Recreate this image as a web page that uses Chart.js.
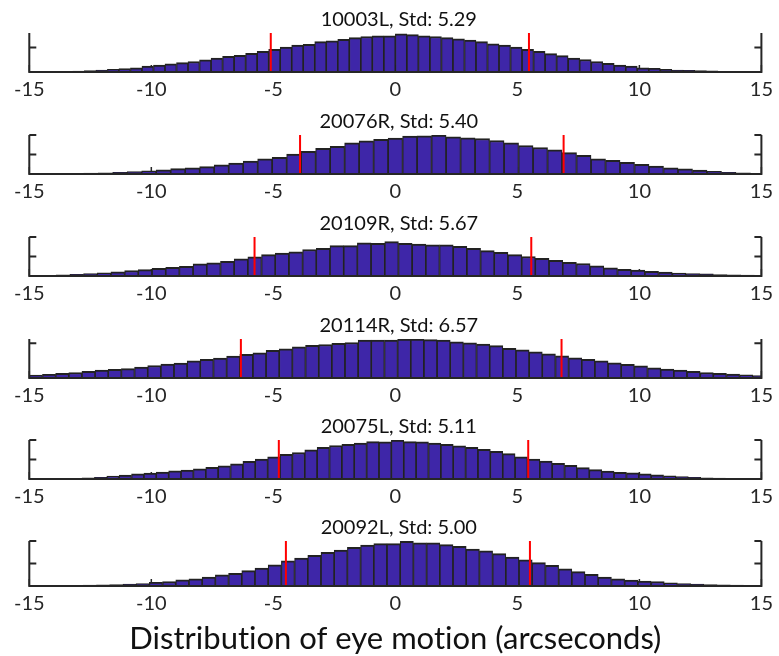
<!DOCTYPE html>
<html>
<head>
<meta charset="utf-8">
<title>Distribution of eye motion</title>
<script src="https://cdn.jsdelivr.net/npm/chart.js@4.4.1/dist/chart.umd.min.js"></script>
<style>
  html, body { margin: 0; padding: 0; background: #fff; }
  #wrap { position: relative; width: 779px; height: 656px; overflow: hidden; }
  #wrap canvas { position: absolute; left: 0; }
</style>
</head>
<body>
<div id="wrap"></div>
<script>
// subjects, one histogram panel each
const subjects = ["10003L", "20076R", "20109R", "20114R", "20075L", "20092L"];
const stds = [5.29, 5.40, 5.67, 6.57, 5.11, 5.00];
const means = [0.185, 1.495, -0.10, 0.24, 0.335, 0.515];

// bin layout per subject (arcseconds)
const binWidths = [0.472, 0.594, 0.561, 0.539, 0.507, 0.541];
const firstCenters = [-14.868, -14.85, -14.74, -14.73, -15.12, -15.22];

// bin heights, normalised to each panel's y-limit
const hist10003L = [0.01, 0.012, 0.015, 0.02, 0.025, 0.035, 0.05, 0.067, 0.09, 0.11,
  0.155, 0.18, 0.21, 0.24, 0.27, 0.31, 0.36, 0.40, 0.43, 0.48,
  0.53, 0.58, 0.64, 0.69, 0.71, 0.78, 0.80, 0.84, 0.88, 0.91,
  0.93, 0.93, 0.98, 0.96, 0.93, 0.91, 0.88, 0.85, 0.82, 0.78,
  0.72, 0.69, 0.64, 0.58, 0.53, 0.47, 0.42, 0.36, 0.32, 0.27,
  0.22, 0.18, 0.15, 0.11, 0.095, 0.066, 0.05, 0.044, 0.036, 0.028,
  0.02, 0.015, 0.01, 0.008];
const hist20076R = [0.008, 0.008, 0.011, 0.015, 0.023, 0.03, 0.045, 0.06, 0.083, 0.105,
  0.136, 0.159, 0.19, 0.235, 0.28, 0.33, 0.386, 0.43, 0.51, 0.58,
  0.66, 0.71, 0.80, 0.85, 0.89, 0.92, 0.97, 0.98, 1.0, 0.95,
  0.93, 0.91, 0.86, 0.80, 0.73, 0.68, 0.62, 0.55, 0.48, 0.39,
  0.35, 0.30, 0.25, 0.205, 0.16, 0.13, 0.10, 0.07, 0.045, 0.03,
  0.02];
const hist20109R = [0.015, 0.015, 0.03, 0.045, 0.06, 0.083, 0.11, 0.14, 0.165, 0.195,
  0.225, 0.25, 0.31, 0.34, 0.375, 0.44, 0.49, 0.55, 0.59, 0.62,
  0.68, 0.71, 0.78, 0.78, 0.85, 0.84, 0.88, 0.84, 0.82, 0.80,
  0.80, 0.76, 0.71, 0.65, 0.61, 0.55, 0.50, 0.45, 0.40, 0.35,
  0.32, 0.26, 0.21, 0.17, 0.15, 0.12, 0.10, 0.075, 0.06, 0.053,
  0.038, 0.03, 0.023, 0.015];
const hist20114R = [0.074, 0.096, 0.12, 0.14, 0.17, 0.20, 0.22, 0.24, 0.28, 0.32,
  0.36, 0.385, 0.44, 0.48, 0.51, 0.56, 0.61, 0.645, 0.71, 0.75,
  0.80, 0.84, 0.86, 0.89, 0.91, 0.97, 0.97, 0.975, 1.0, 0.995,
  0.985, 0.97, 0.93, 0.90, 0.87, 0.83, 0.76, 0.72, 0.67, 0.62,
  0.57, 0.52, 0.48, 0.44, 0.39, 0.35, 0.31, 0.26, 0.23, 0.20,
  0.17, 0.14, 0.12, 0.10, 0.08, 0.065];
const hist20075L = [0.005, 0.008, 0.008, 0.015, 0.02, 0.03, 0.045, 0.075, 0.10, 0.13,
  0.15, 0.18, 0.21, 0.23, 0.26, 0.30, 0.34, 0.39, 0.45, 0.51,
  0.57, 0.63, 0.68, 0.75, 0.81, 0.86, 0.89, 0.92, 0.96, 0.95,
  1.0, 0.96, 0.95, 0.92, 0.89, 0.85, 0.81, 0.76, 0.71, 0.65,
  0.57, 0.51, 0.46, 0.40, 0.35, 0.29, 0.24, 0.20, 0.17, 0.16,
  0.13, 0.105, 0.083, 0.06, 0.045, 0.03, 0.023, 0.015, 0.008];
const hist20092L = [0.005, 0.006, 0.008, 0.01, 0.013, 0.018, 0.024, 0.03, 0.04, 0.056,
  0.08, 0.10, 0.136, 0.16, 0.20, 0.25, 0.28, 0.34, 0.40, 0.47,
  0.56, 0.62, 0.68, 0.75, 0.80, 0.86, 0.91, 0.94, 0.94, 0.99,
  0.96, 0.96, 0.92, 0.88, 0.82, 0.78, 0.72, 0.64, 0.58, 0.52,
  0.46, 0.38, 0.32, 0.26, 0.20, 0.16, 0.13, 0.11, 0.10, 0.07,
  0.056, 0.04, 0.032, 0.024, 0.02, 0.016, 0.015];
const histograms = [hist10003L, hist20076R, hist20109R, hist20114R, hist20075L, hist20092L];

// y tick positions (same normalised units), x tick step
const yTicks = [[0, 0.63], [0, 0.5, 1], [0, 0.5, 1], [0, 0.89], [0, 0.5, 1], [0, 0.5, 1]];
const xTickStep = 5;
const xLabel = "Distribution of eye motion (arcseconds)";

const BAR_FILL = "rgb(62, 38, 168)";
const EDGE = "#222222";
const AXIS = "#262626";
const TICK_LEN = 7;

Chart.defaults.font.family = "Lato, 'Open Sans', sans-serif";

// MATLAB-like axes: inward ticks, left/right/bottom lines, mean ± std markers
const axisFrame = {
  id: "axisFrame",
  beforeDraw(chart) {
    // plain glyphs, no "ti"/"fi" ligatures from Lato
    chart.ctx.textRendering = "optimizeSpeed";
  },
  beforeDatasetsDraw(chart) {
    const { ctx, chartArea: a, scales: { x } } = chart;
    ctx.save();
    ctx.strokeStyle = AXIS;
    ctx.lineWidth = 1.5;
    ctx.beginPath();
    x.ticks.forEach(t => {
      const px = x.getPixelForValue(t.value);
      ctx.moveTo(px, a.bottom);
      ctx.lineTo(px, a.bottom - TICK_LEN);
    });
    ctx.stroke();
    ctx.restore();
  },
  afterDatasetsDraw(chart, args, opts) {
    const { ctx, chartArea: a, scales: { x, y } } = chart;
    ctx.save();
    ctx.strokeStyle = "#ff0000";
    ctx.lineWidth = 2;
    ctx.beginPath();
    opts.markers.forEach(v => {
      const px = x.getPixelForValue(v);
      ctx.moveTo(px, y.getPixelForValue(0));
      ctx.lineTo(px, y.getPixelForValue(y.max));
    });
    ctx.stroke();

    ctx.strokeStyle = AXIS;
    ctx.lineWidth = 2;
    ctx.beginPath();
    ctx.moveTo(a.left, a.top);
    ctx.lineTo(a.left, a.bottom);
    ctx.lineTo(a.right, a.bottom);
    ctx.lineTo(a.right, a.top);
    opts.yTicks.forEach(v => {
      const py = y.getPixelForValue(v);
      ctx.moveTo(a.left, py);
      ctx.lineTo(a.left + TICK_LEN, py);
      ctx.moveTo(a.right, py);
      ctx.lineTo(a.right - TICK_LEN, py);
    });
    ctx.stroke();
    ctx.restore();
  }
};

const wrap = document.getElementById("wrap");
const panelTops = [0, 102, 204, 306, 407, 508];

subjects.forEach((name, i) => {
  const last = i === subjects.length - 1;
  const canvas = document.createElement("canvas");
  canvas.width = 779;
  canvas.height = last ? 148 : 108;
  canvas.style.top = panelTops[i] + "px";
  wrap.appendChild(canvas);

  const points = histograms[i].map((v, k) => ({ x: firstCenters[i] + k * binWidths[i], y: v }));

  new Chart(canvas, {
    type: "bar",
    data: {
      datasets: [{
        data: points,
        backgroundColor: BAR_FILL,
        borderColor: EDGE,
        borderWidth: { top: 2, left: 1.2, right: 1.2, bottom: 0 },
        borderSkipped: false,
        barPercentage: 1,
        categoryPercentage: 1,
        clip: 0
      }]
    },
    options: {
      responsive: false,
      animation: false,
      layout: { padding: { left: 29.3, right: 10.7, top: 8, bottom: 0 } },
      scales: {
        x: {
          type: "linear",
          min: -15,
          max: 15,
          offset: false,
          grid: { display: false, drawTicks: false, offset: false },
          border: { display: false },
          ticks: {
            stepSize: xTickStep,
            color: AXIS,
            font: { size: 20 },
            padding: 6,
            maxRotation: 0,
            autoSkip: false
          },
          title: {
            display: last,
            text: xLabel,
            color: "#111111",
            font: { size: 31, lineHeight: 1 },
            padding: { top: 7.3, bottom: 1.7 }
          }
        },
        y: {
          display: false,
          min: 0,
          max: 1
        }
      },
      plugins: {
        legend: { display: false },
        tooltip: { enabled: false },
        title: {
          display: true,
          text: name + ", Std: " + stds[i].toFixed(2),
          color: "#111111",
          font: { size: 20, weight: "normal" },
          padding: { top: 0, bottom: 1 }
        },
        axisFrame: {
          markers: [means[i] - stds[i], means[i] + stds[i]],
          yTicks: yTicks[i]
        }
      }
    },
    plugins: [axisFrame]
  });
});
</script>
</body>
</html>
